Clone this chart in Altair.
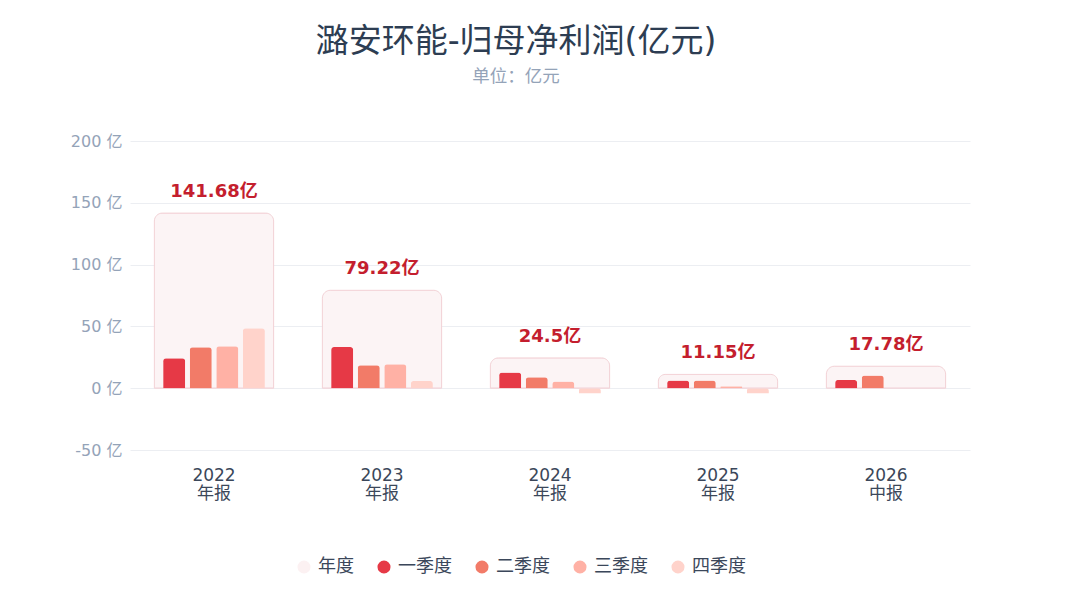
import altair as alt
import pandas as pd

years = ["2022|年报", "2023|年报", "2024|年报", "2025|年报", "2026|中报"]
annual = [141.68, 79.22, 24.5, 11.15, 17.78]
annual_labels = ["141.68亿", "79.22亿", "24.5亿", "11.15亿", "17.78亿"]
quarters = ["一季度", "二季度", "三季度", "四季度"]
q1 = [24.3, 33.3, 12.7, 6.2, 6.7]
q2 = [33.2, 18.5, 8.9, 6.2, 10.2]
q3 = [33.9, 19.3, 5.4, 1.6, None]
q4 = [48.6, 5.9, -4.3, -4.3, None]

series_domain = ["年度"] + quarters
series_colors = ["#fcf1f2", "#e63946", "#f27b68", "#ffb1a5", "#ffd3cb"]

ann_df = pd.DataFrame({"year": years, "value": annual, "label": annual_labels, "series": "年度"})
rows = []
for qi, qv in zip(quarters, [q1, q2, q3, q4]):
    for y, v in zip(years, qv):
        if v is not None:
            rows.append({"year": y, "series": qi, "value": v})
q_df = pd.DataFrame(rows)

FONT = "DejaVu Sans, Noto Sans CJK SC, sans-serif"

x_enc = alt.X("year:N", sort=years,
              scale=alt.Scale(paddingInner=0.29, paddingOuter=0.145),
              axis=alt.Axis(title=None, labelExpr="split(datum.value, '|')", labelAngle=0,
                            labelFontSize=17, labelColor="#3b475a", labelLineHeight=18,
                            labelPadding=17, domain=False, ticks=False, grid=False,
                            labelFont=FONT))
y_scale = alt.Scale(domain=[-50, 200], nice=False)
y_axis = alt.Axis(title=None, values=[-50, 0, 50, 100, 150, 200], labelExpr="datum.value + ' 亿'",
                  labelColor="#94a3b8", labelFontSize=16, labelPadding=8, domain=False, ticks=False,
                  gridColor="#eceef2", labelFont=FONT)
color_enc = alt.Color("series:N", scale=alt.Scale(domain=series_domain, range=series_colors),
                      legend=alt.Legend(title=None, orient="none", direction="horizontal",
                                        legendX=165, legendY=417, symbolType="circle", symbolSize=170,
                                        labelFontSize=18, labelColor="#3b475a", columnPadding=21,
                                        labelOffset=5,
                                        symbolStrokeWidth=0, labelFont=FONT))

ann = alt.Chart(ann_df).mark_bar(cornerRadiusTopLeft=8, cornerRadiusTopRight=8,
                                 stroke="#f3d3d7", strokeWidth=1, fill="#fcf4f5").encode(
    x=x_enc, y=alt.Y("value:Q", scale=y_scale, axis=y_axis), color=color_enc)

labels = alt.Chart(ann_df).mark_text(fontSize=18, fontWeight="bold", color="#c41e2e",
                                     baseline="bottom", dy=-12, font=FONT).encode(
    x=alt.X("year:N", sort=years), y=alt.Y("value:Q"), text="label:N")

qbars = alt.Chart(q_df).mark_bar(cornerRadiusEnd=3).encode(
    x=alt.X("year:N", sort=years),
    xOffset=alt.XOffset("series:N", sort=quarters,
                        scale=alt.Scale(domain=quarters, paddingInner=0.17, paddingOuter=0.33)),
    y=alt.Y("value:Q"),
    color=alt.Color("series:N"))

chart = alt.layer(ann, qbars, labels).properties(
    width=840, height=309,
    autosize=alt.AutoSizeParams(type="none"),
    padding={"left": 122, "top": 133, "right": 102, "bottom": 142},
    background="white",
    title=alt.TitleParams(text="潞安环能-归母净利润(亿元)", subtitle="单位：亿元",
                          fontSize=33, fontWeight="normal", color="#2d3d52",
                          subtitleFontSize=17.5, subtitleColor="#94a3b8", subtitlePadding=9,
                          anchor="middle", dx=-34, offset=48, font=FONT, subtitleFont=FONT)
).configure_view(stroke=None)

chart.save("out.html", embed_options={"renderer": "svg", "actions": False})
